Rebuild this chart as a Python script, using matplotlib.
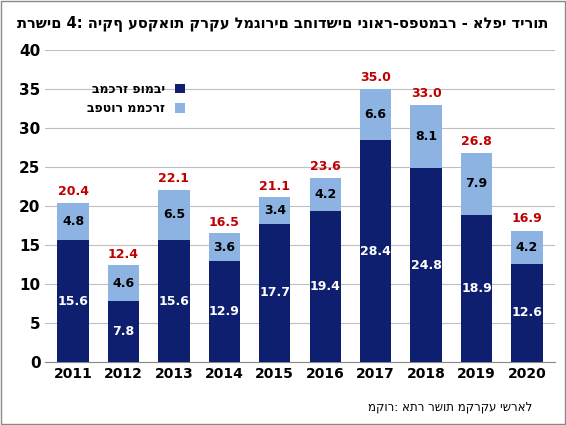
import matplotlib
matplotlib.use("Agg")
import matplotlib.pyplot as plt

years = ["2011","2012","2013","2014","2015","2016","2017","2018","2019","2020"]
public = [15.6, 7.8, 15.6, 12.9, 17.7, 19.4, 28.4, 24.8, 18.9, 12.6]
exempt = [4.8, 4.6, 6.5, 3.6, 3.4, 4.2, 6.6, 8.1, 7.9, 4.2]
totals = [20.4, 12.4, 22.1, 16.5, 21.1, 23.6, 35.0, 33.0, 26.8, 16.9]

title = "תרשים 4: היקף עסקאות קרקע למגורים בחודשים ינואר-ספטמבר - אלפי דירות"
lab_pub = "במכרז פומבי"
lab_ex = "בפטור ממכרז"
source = "מקור: אתר רשות מקרקע ישראל"

dark = "#0d1f6e"; light = "#8db3e2"; red = "#c00000"
fig = plt.figure(figsize=(5.66, 4.25), dpi=100)
ax = fig.add_axes([0.08, 0.148, 0.9, 0.735])
x = range(len(years))
ax.bar(x, public, 0.62, color=dark, label=lab_pub, zorder=3)
ax.bar(x, exempt, 0.62, bottom=public, color=light, label=lab_ex, zorder=3)
for i in x:
    ax.text(i, public[i]/2, f"{public[i]:.1f}", color="white", ha="center", va="center", fontsize=9, fontweight="bold", zorder=4)
    ax.text(i, public[i]+exempt[i]/2, f"{exempt[i]:.1f}", color="black", ha="center", va="center", fontsize=9, fontweight="bold", zorder=4)
    ax.text(i, totals[i]+0.6, f"{totals[i]:.1f}", color=red, ha="center", va="bottom", fontsize=9, fontweight="bold", zorder=4)
ax.set_ylim(0, 40)
ax.set_yticks(range(0, 41, 5))
ax.set_xlim(-0.55, 9.55)
ax.set_xticks(list(x))
ax.set_xticklabels(years, fontweight="bold", fontsize=10)
for t in ax.get_yticklabels():
    t.set_fontweight("bold"); t.set_fontsize(11)
ax.grid(axis="y", color="#bfbfbf", lw=0.8, zorder=0)
for s in ["top", "right", "left"]:
    ax.spines[s].set_visible(False)
ax.spines["bottom"].set_color("#888888")
ax.tick_params(length=0)
ax.legend(loc="upper left", bbox_to_anchor=(0.06, 0.93), markerfirst=False, frameon=False,
          prop={"weight": "bold", "size": 9}, handlelength=0.8, handleheight=0.8)
fig.text(0.5, 0.935, title, ha="center", fontsize=10.5, fontweight="bold")
fig.text(0.94, 0.035, source, ha="right", fontsize=8.5)
fig.patches.append(plt.Rectangle((0.002, 0.002), 0.996, 0.996, transform=fig.transFigure, fill=False, ec="#888888", lw=1))
fig.savefig("out.png", dpi=100)
